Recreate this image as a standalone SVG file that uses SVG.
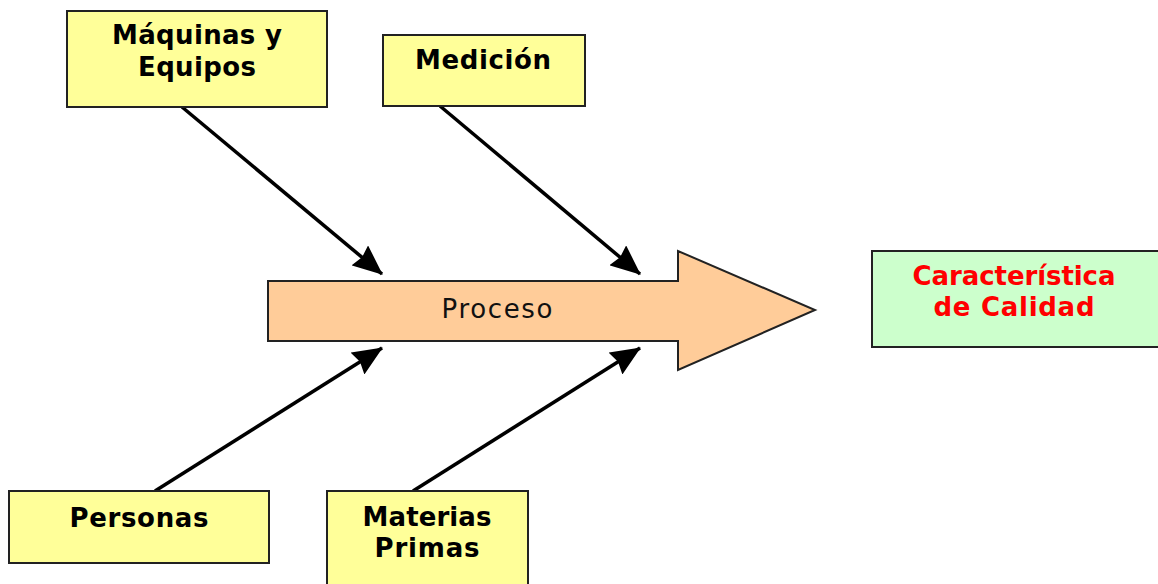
<svg xmlns="http://www.w3.org/2000/svg" width="1158" height="584" viewBox="0 0 1158 584">
<style>
.box{fill:#FFFF99;stroke:#222;stroke-width:2}
.res{fill:#CCFFCC;stroke:#222;stroke-width:2}
.lbl{font-family:"DejaVu Sans",Verdana,sans-serif;font-weight:bold;font-size:26px;fill:#000;text-anchor:middle}
.red{fill:#FF0000}
.proc{font-family:"DejaVu Sans",Verdana,sans-serif;font-size:26px;fill:#111;text-anchor:middle}
.con{stroke:#000;stroke-width:3.5;fill:none;marker-end:url(#ah)}
</style>
<defs>
<marker id="ah" viewBox="0 0 30 26" refX="29" refY="13" markerWidth="30" markerHeight="26" markerUnits="userSpaceOnUse" orient="auto">
<path d="M0,0 L30,13 L0,26 L3,13 z" fill="#000"/>
</marker>
</defs>
<rect width="1158" height="584" fill="#fff"/>
<g id="proceso">
<path d="M268,281 L678,281 L678,251 L815,310 L678,370 L678,341 L268,341 z" fill="#FFCC99" stroke="#222" stroke-width="2"/>
<text class="proc" x="497" y="318" textLength="111" lengthAdjust="spacing">Proceso</text>
</g>
<g id="connectors">
<line class="con" x1="182" y1="107" x2="382" y2="274"/>
<line class="con" x1="440" y1="106" x2="640" y2="274"/>
<line class="con" x1="155" y1="491" x2="382" y2="348"/>
<line class="con" x1="413" y1="491" x2="640" y2="348"/>
</g>
<g id="maquinas">
<rect class="box" x="67" y="11" width="260" height="96"/>
<text class="lbl" x="197" y="44" textLength="170" lengthAdjust="spacing">Máquinas y</text>
<text class="lbl" x="197" y="76" textLength="118" lengthAdjust="spacing">Equipos</text>
</g>
<g id="medicion">
<rect class="box" x="383" y="35" width="202" height="71"/>
<text class="lbl" x="483" y="69" textLength="136" lengthAdjust="spacing">Medición</text>
</g>
<g id="personas">
<rect class="box" x="9" y="491" width="260" height="72"/>
<text class="lbl" x="139" y="527" textLength="139" lengthAdjust="spacing">Personas</text>
</g>
<g id="materias">
<rect class="box" x="327" y="491" width="201" height="100"/>
<text class="lbl" x="427" y="526" textLength="129" lengthAdjust="spacing">Materias</text>
<text class="lbl" x="427" y="557" textLength="105" lengthAdjust="spacing">Primas</text>
</g>
<g id="caracteristica">
<rect class="res" x="872" y="251" width="290" height="96"/>
<text class="lbl red" x="1014" y="285" textLength="203" lengthAdjust="spacing">Característica</text>
<text class="lbl red" x="1014" y="316" textLength="161" lengthAdjust="spacing">de Calidad</text>
</g>
</svg>
